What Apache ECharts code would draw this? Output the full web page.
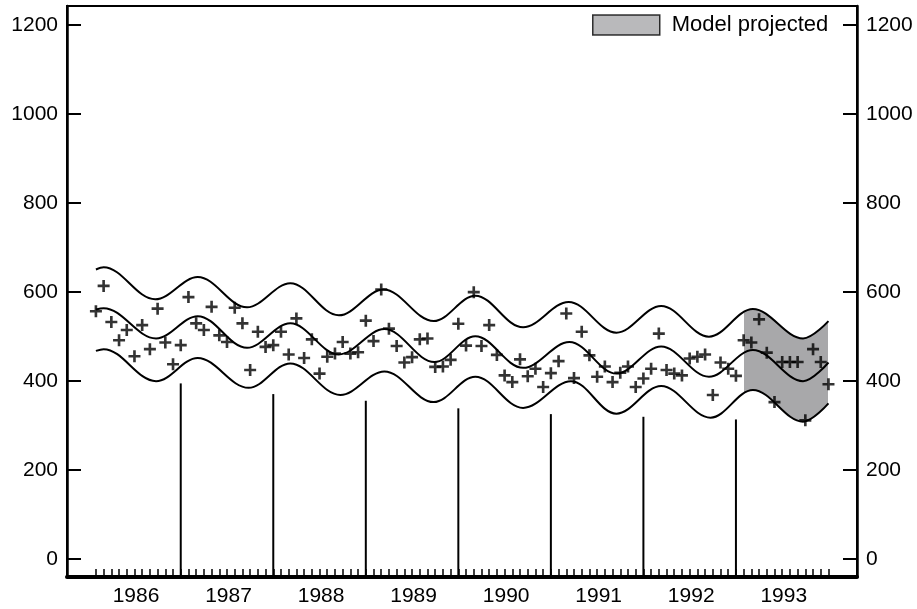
<!DOCTYPE html>
<html><head><meta charset="utf-8">
<script src="https://cdn.jsdelivr.net/npm/echarts@6/dist/echarts.min.js"></script>
<style>html,body{margin:0;padding:0;background:#fff}#c{width:917px;height:609px}</style>
</head><body><div id="c"></div>
<script>
const FONT = '"Liberation Sans", Arial, Helvetica, sans-serif';

// Year labels (x axis), months are indexed 1..96 from Jan 1986
const yearLabels = ['1986', '1987', '1988', '1989', '1990', '1991', '1992', '1993'];
const yTicks = [0, 200, 400, 600, 800, 1000, 1200];

// Observed monthly values (one per month, Jan 1986 .. Dec 1993)
const observed = [
  557, 614, 533, 492, 515, 456, 526, 472, 563, 487, 438, 481,
  589, 530, 515, 567, 503, 488, 565, 530, 425, 511, 477, 481,
  511, 460, 541, 452, 494, 417, 455, 462, 488, 462, 465, 536,
  490, 606, 518, 479, 442, 454, 494, 496, 432, 433, 448, 529,
  480, 600, 479, 526, 459, 413, 398, 449, 411, 428, 387, 418,
  445, 552, 407, 511, 458, 410, 433, 398, 419, 433, 387, 406,
  428, 507, 425, 417, 413, 451, 455, 460, 369, 442, 428, 412,
  492, 487, 539, 464, 353, 443, 443, 443, 312, 472, 443, 393
];

// Model curves: [month, value] read at the extremes of each curve
const upperBand = [
  [1, 651], [2, 656], [8.7, 584], [14.2, 634], [20.6, 566], [26.2, 620], [32.5, 548],
  [38.3, 606], [44.8, 535], [50.2, 592], [56.4, 521], [62.3, 578], [68.5, 509],
  [74.3, 569], [80.5, 500], [86.2, 562], [92.7, 496], [96, 535]
];
const fitted = [
  [1, 561], [2, 564], [8.8, 496], [14.2, 546], [20.6, 475], [26.2, 530], [32.5, 460],
  [38.4, 517], [44.9, 443], [50.2, 501], [56.4, 430], [62.4, 488], [68.5, 417],
  [74.3, 478], [80.5, 410], [86.2, 470], [92.7, 400], [96, 442]
];
const lowerBand = [
  [1, 468], [2, 472], [8.8, 400], [14.2, 452], [20.8, 385], [26.2, 440], [32.7, 369],
  [38.4, 422], [44.8, 353], [50.2, 410], [56.4, 340], [62.6, 400], [68.5, 327],
  [74.3, 389], [80.7, 318], [86.2, 380], [92.7, 309], [96, 350]
];

// Year-end markers: [month, height]
const yearMarkers = [[12, 395], [24, 371], [36, 356], [48, 339], [60, 326], [72, 320], [84, 314]];

const projectionStart = 85;   // month where "Model projected" shading begins
const projectionEnd = 96;     // last projected month
const legendName = 'Model projected';

const X_MIN = -2.75, X_MAX = 99.7, Y_MIN = -40, Y_MAX = 1243;
const LABEL_OFFSET = 6.2;

const monthTicks = observed.map((v, i) => i + 1);
const yearLabelPos = yearLabels.map((y, i) => 12 * i + LABEL_OFFSET);
const observedPts = observed.map((v, i) => [i + 1, v]);

const PLUS = 'path://M0,3.9H3.9V0H6.1V3.9H10V6.1H6.1V10H3.9V6.1H0Z';
const GRAY = '#a8a8aa';

const yAxisBase = (pos) => ({
  type: 'value', position: pos, min: Y_MIN, max: Y_MAX,
  axisLine: { show: true, onZero: false, lineStyle: { color: '#000', width: 2.5 } },
  axisTick: { show: true, inside: true, length: 14, lineStyle: { color: '#000', width: 2 }, customValues: yTicks },
  axisLabel: { customValues: yTicks, formatter: (v) => String(v), color: '#000', fontSize: 21, fontFamily: FONT, margin: 9 },
  splitLine: { show: false }
});

const chart = echarts.init(document.getElementById('c'), null, { renderer: 'canvas' });
chart.setOption({
  animation: false,
  backgroundColor: '#fff',
  grid: { left: 67, right: 60, top: 6, bottom: 32, show: true, borderColor: '#000', borderWidth: 2, backgroundColor: 'transparent' },
  legend: {
    left: 592, top: 14, itemWidth: 67, itemHeight: 20, padding: 0,
    data: [{ name: legendName, icon: 'rect', itemStyle: { color: GRAY, borderColor: '#000', borderWidth: 1.5 } }],
    textStyle: { color: '#000', fontSize: 22, fontFamily: FONT, padding: [0, 0, 0, 7] }
  },
  visualMap: [
    { type: 'piecewise', show: false, seriesIndex: 0, dimension: 0,
      pieces: [{ gte: projectionStart, lte: projectionEnd - 0.06, color: GRAY }],
      outOfRange: { color: 'rgba(168,168,170,0)' } },
    { type: 'piecewise', show: false, seriesIndex: 1, dimension: 0,
      pieces: [{ gte: projectionStart - 0.25, lte: projectionEnd + 4, color: '#ffffff' }],
      outOfRange: { color: 'rgba(255,255,255,0)' } }
  ],
  xAxis: [{
    type: 'value', position: 'bottom', min: X_MIN, max: X_MAX, z: 5,
    axisLine: { show: true, onZero: false, lineStyle: { color: '#000', width: 4 } },
    axisTick: { show: true, inside: true, length: 8, lineStyle: { color: '#000', width: 1.5 }, customValues: monthTicks },
    axisLabel: { customValues: yearLabelPos, formatter: (v) => yearLabels[Math.round((v - LABEL_OFFSET) / 12)],
      color: '#000', fontSize: 21, fontFamily: FONT, margin: 9 },
    splitLine: { show: false }
  }],
  yAxis: [yAxisBase('left'), yAxisBase('right')],
  series: [
    { name: 'upper', type: 'line', data: upperBand, smooth: 0.36, symbol: 'none', z: 2,
      lineStyle: { color: '#000', width: 2 }, areaStyle: { opacity: 1, origin: 'auto' } },
    { name: 'lower', type: 'line', data: lowerBand, smooth: 0.36, symbol: 'none', z: 2,
      lineStyle: { color: '#000', width: 2 }, areaStyle: { opacity: 1, origin: 'start' } },
    { name: 'fit', type: 'line', data: fitted, smooth: 0.36, symbol: 'none', z: 3,
      lineStyle: { color: '#000', width: 2 } },
    { name: 'observed', type: 'scatter', data: observedPts, symbol: PLUS, symbolSize: 12, z: 4,
      itemStyle: { color: '#000' } },
    { name: 'markers', type: 'custom', data: yearMarkers, z: 4,
      encode: { x: 0, y: 1 },
      renderItem: (params, api) => {
        const top = api.coord([api.value(0), api.value(1)]);
        const bot = api.coord([api.value(0), Y_MIN]);
        return { type: 'line', shape: { x1: top[0], y1: top[1], x2: bot[0], y2: bot[1] },
          style: { stroke: '#000', lineWidth: 2 } };
      } },
    { name: legendName, type: 'scatter', data: [], itemStyle: { color: GRAY, borderColor: '#000', borderWidth: 1.5 } }
  ]
});
</script></body></html>
